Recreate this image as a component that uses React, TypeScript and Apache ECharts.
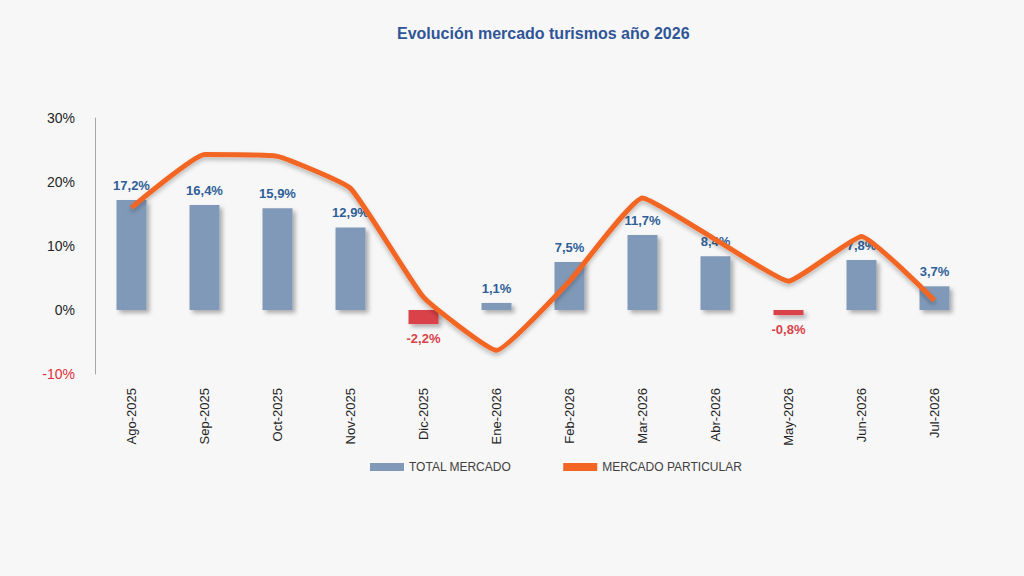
import { useEffect, useRef } from "react";
import * as echarts from "echarts";

const months = ["Ago-2025", "Sep-2025", "Oct-2025", "Nov-2025", "Dic-2025", "Ene-2026", "Feb-2026", "Mar-2026", "Abr-2026", "May-2026", "Jun-2026", "Jul-2026"];
const totalMercado = [17.2, 16.4, 15.9, 12.9, -2.2, 1.1, 7.5, 11.7, 8.4, -0.8, 7.8, 3.7];
const mercadoParticular = [16.0, 24.3, 24.0, 19.0, 2.0, -6.3, 4.5, 17.5, 11.0, 4.5, 11.5, 1.5];

const App = () => {
  const ref = useRef<HTMLDivElement>(null);

  useEffect(() => {
    const chart = echarts.init(ref.current, null, { renderer: "svg" });
    chart.setOption({
      animation: false,
      backgroundColor: "#f7f7f7",
      title: {
        text: "Evolución mercado turismos año 2026",
        left: 392,
        top: 20,
        textStyle: { color: "#2f5597", fontSize: 16, fontWeight: "bold", fontFamily: "Liberation Sans" },
      },
      legend: {
        bottom: 98,
        left: 365,
        itemGap: 52,
        itemWidth: 34,
        itemHeight: 8,
        textStyle: { color: "#404040", fontSize: 12, fontFamily: "Liberation Sans" },
        data: [
          { name: "TOTAL MERCADO", icon: "rect" },
          { name: "MERCADO PARTICULAR", icon: "rect", itemStyle: { color: "#f26522" } },
        ],
      },
      grid: { left: 95, right: 53, top: 118, bottom: 202 },
      xAxis: {
        type: "category",
        data: months,
        axisLine: { show: false },
        axisTick: { show: false },
        axisLabel: { rotate: 90, color: "#262626", fontSize: 13, fontFamily: "Liberation Sans", margin: 14 },
      },
      yAxis: {
        type: "value",
        min: -10,
        max: 30,
        interval: 10,
        splitLine: { show: false },
        axisLine: { show: true, lineStyle: { color: "#a6a6a6" } },
        axisTick: { show: false },
        axisLabel: {
          fontSize: 14,
          margin: 20,
          fontFamily: "Liberation Sans",
          formatter: (v: number) => `${v}%`,
          color: (v: any) => (Number(v) < 0 ? "#e0303a" : "#262626"),
        },
      },
      series: [
        {
          name: "TOTAL MERCADO",
          type: "bar",
          barWidth: 30,
          itemStyle: { color: "#8099b8" },
          data: totalMercado.map((v) => ({
            value: v,
            itemStyle: {
              color: v < 0 ? "#d9424a" : "#8099b8",
              shadowColor: "rgba(0,0,0,0.3)",
              shadowBlur: 4,
              shadowOffsetX: 3,
              shadowOffsetY: 3,
            },
            label: {
              show: true,
              position: v < 0 ? "bottom" : "top",
              distance: 8,
              color: v < 0 ? "#d9424a" : "#2f5f98",
              fontWeight: "bold",
              fontSize: 13,
              fontFamily: "Liberation Sans",
              formatter: () => `${v.toFixed(1).replace(".", ",")}%`,
            },
          })),
        },
        {
          name: "MERCADO PARTICULAR",
          type: "line",
          smooth: 0.12,
          symbol: "none",
          data: mercadoParticular,
          itemStyle: { color: "#f26522" },
          lineStyle: { color: "#f26522", width: 5, shadowColor: "rgba(0,0,0,0.25)", shadowBlur: 4, shadowOffsetY: 3 },
          z: 3,
        },
      ],
    });
    return () => chart.dispose();
  }, []);

  return <div ref={ref} style={{ position: "fixed", left: 0, top: 0, width: 1024, height: 576 }} />;
};

export default App;
